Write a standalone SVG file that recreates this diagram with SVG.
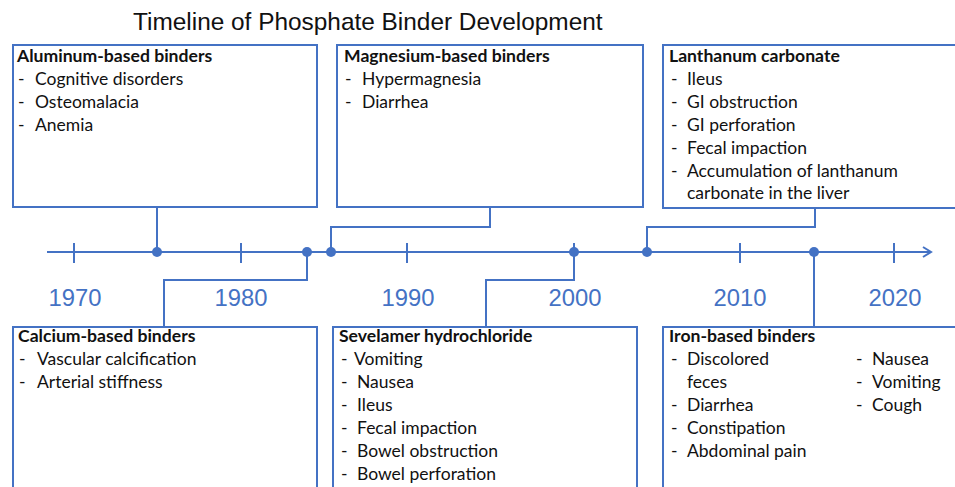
<svg xmlns="http://www.w3.org/2000/svg" width="955" height="487" viewBox="0 0 955 487">
<style>
.box{fill:#fff;stroke:#4472C4;stroke-width:2}
.ln{fill:none;stroke:#4472C4;stroke-width:2}
.dot{fill:#4472C4}
.h{font-family:Lato,"Liberation Sans",sans-serif;font-weight:bold;font-size:17.6px;fill:#111}
.t{font-family:Lato,"Liberation Sans",sans-serif;font-size:17.5px;fill:#111}
.yr{font-family:"Liberation Sans",Arial,sans-serif;font-size:23.8px;fill:#4472C4;text-anchor:middle}
.title{font-family:"Liberation Sans",Arial,sans-serif;font-size:24.4px;fill:#111}
</style>
<defs>
<marker id="arr" markerWidth="12" markerHeight="12" refX="10" refY="6" orient="auto" markerUnits="userSpaceOnUse">
<path d="M2,1 L10,6 L2,11" fill="none" stroke="#4472C4" stroke-width="2"/>
</marker>
</defs>
<text class="title" x="133" y="30">Timeline of Phosphate Binder Development</text>

<g id="connectors">
<line class="ln" x1="47" y1="252" x2="931" y2="252" marker-end="url(#arr)"/>
<g class="ln">
<line x1="74" y1="243" x2="74" y2="263"/>
<line x1="241" y1="243" x2="241" y2="263"/>
<line x1="407" y1="243" x2="407" y2="263"/>
<line x1="574" y1="243" x2="574" y2="263"/>
<line x1="740" y1="243" x2="740" y2="263"/>
<line x1="894" y1="243" x2="894" y2="263"/>
</g>
<polyline class="ln" points="157,207 157,252"/>
<polyline class="ln" points="307,252 307,280 164,280 164,327"/>
<polyline class="ln" points="331,252 331,227 490,227 490,207"/>
<polyline class="ln" points="574,252 574,280 486,280 486,327"/>
<polyline class="ln" points="647,252 647,227 815,227 815,208"/>
<polyline class="ln" points="814,252 814,327"/>
<circle class="dot" cx="157" cy="252" r="5"/>
<circle class="dot" cx="307" cy="252" r="5"/>
<circle class="dot" cx="331" cy="252" r="5"/>
<circle class="dot" cx="574" cy="252" r="5"/>
<circle class="dot" cx="647" cy="252" r="5"/>
<circle class="dot" cx="814" cy="252" r="5"/>
</g>

<g id="years">
<text class="yr" x="75" y="306">1970</text>
<text class="yr" x="241" y="306">1980</text>
<text class="yr" x="408" y="306">1990</text>
<text class="yr" x="575" y="306">2000</text>
<text class="yr" x="740" y="306">2010</text>
<text class="yr" x="895" y="306">2020</text>
</g>

<g id="aluminum">
<rect class="box" x="13" y="45" width="304" height="162"/>
<text class="h" x="17" y="62">Aluminum-based binders</text>
<text class="t" x="18" y="85">-</text><text class="t" x="35" y="85">Cognitive disorders</text>
<text class="t" x="18" y="108">-</text><text class="t" x="35" y="108">Osteomalacia</text>
<text class="t" x="18" y="131">-</text><text class="t" x="35" y="131">Anemia</text>
</g>

<g id="magnesium">
<rect class="box" x="337" y="45" width="306" height="162"/>
<text class="h" x="344" y="62">Magnesium-based binders</text>
<text class="t" x="345" y="85">-</text><text class="t" x="362" y="85">Hypermagnesia</text>
<text class="t" x="345" y="108">-</text><text class="t" x="362" y="108">Diarrhea</text>
</g>

<g id="lanthanum">
<rect class="box" x="663" y="45" width="300" height="163"/>
<text class="h" x="669" y="62">Lanthanum carbonate</text>
<text class="t" x="671" y="85">-</text><text class="t" x="687" y="85">Ileus</text>
<text class="t" x="671" y="108">-</text><text class="t" x="687" y="108">GI obstruction</text>
<text class="t" x="671" y="131">-</text><text class="t" x="687" y="131">GI perforation</text>
<text class="t" x="671" y="154">-</text><text class="t" x="687" y="154">Fecal impaction</text>
<text class="t" x="671" y="177">-</text><text class="t" x="687" y="177">Accumulation of lanthanum</text>
<text class="t" x="687" y="199">carbonate in the liver</text>
</g>

<g id="calcium">
<rect class="box" x="13" y="327" width="304" height="170"/>
<text class="h" x="18" y="342">Calcium-based binders</text>
<text class="t" x="19" y="365">-</text><text class="t" x="37" y="365">Vascular calcification</text>
<text class="t" x="19" y="388">-</text><text class="t" x="37" y="388">Arterial stiffness</text>
</g>

<g id="sevelamer">
<rect class="box" x="333" y="327" width="304" height="170"/>
<text class="h" x="339" y="342">Sevelamer hydrochloride</text>
<text class="t" x="341" y="365">-</text><text class="t" x="354" y="365">Vomiting</text>
<text class="t" x="341" y="388">-</text><text class="t" x="357" y="388">Nausea</text>
<text class="t" x="341" y="411">-</text><text class="t" x="357" y="411">Ileus</text>
<text class="t" x="341" y="434">-</text><text class="t" x="357" y="434">Fecal impaction</text>
<text class="t" x="341" y="457">-</text><text class="t" x="357" y="457">Bowel obstruction</text>
<text class="t" x="341" y="480">-</text><text class="t" x="357" y="480">Bowel perforation</text>
</g>

<g id="iron">
<rect class="box" x="663" y="327" width="300" height="170"/>
<text class="h" x="669" y="342">Iron-based binders</text>
<text class="t" x="671" y="365">-</text><text class="t" x="687" y="365">Discolored</text>
<text class="t" x="687" y="388">feces</text>
<text class="t" x="671" y="411">-</text><text class="t" x="687" y="411">Diarrhea</text>
<text class="t" x="671" y="434">-</text><text class="t" x="687" y="434">Constipation</text>
<text class="t" x="671" y="457">-</text><text class="t" x="687" y="457">Abdominal pain</text>
<text class="t" x="856" y="365">-</text><text class="t" x="872" y="365">Nausea</text>
<text class="t" x="856" y="388">-</text><text class="t" x="872" y="388">Vomiting</text>
<text class="t" x="856" y="411">-</text><text class="t" x="872" y="411">Cough</text>
</g>
</svg>
